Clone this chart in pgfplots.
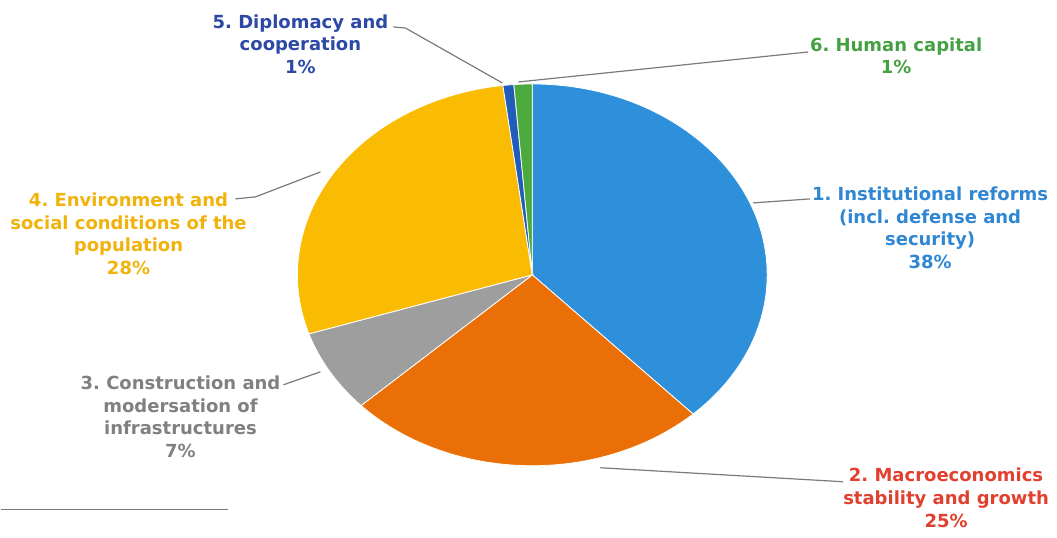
\documentclass[border=0pt]{standalone}
\usepackage{pgfplots}
\pgfplotsset{compat=1.18}
\usepackage{fontspec}
\setmainfont{DejaVu Sans}
\frenchspacing
\definecolor{cBlue}{HTML}{2E90DA}
\definecolor{cOrange}{HTML}{EA6F07}
\definecolor{cGray}{HTML}{9E9E9E}
\definecolor{cYellow}{HTML}{F9BC02}
\definecolor{cNavy}{HTML}{1F5DB8}
\definecolor{cGreen}{HTML}{4BAA3C}
\definecolor{tBlue}{HTML}{2F86D2}
\definecolor{tRed}{HTML}{E2402E}
\definecolor{tGray}{HTML}{808080}
\definecolor{tYellow}{HTML}{F2B20C}
\definecolor{tNavy}{HTML}{2D49A6}
\definecolor{tGreen}{HTML}{45A043}
\definecolor{lead}{HTML}{7A7A7A}
\tikzset{lbl/.style={align=center, inner sep=0pt, font=\bfseries\fontsize{9}{11.3}\selectfont}}
% shares (percent), clockwise from 12 o'clock
\def\vA{38}\def\vB{25}\def\vC{7}\def\vD{28}\def\vE{0.75}\def\vF{1.25}
\pgfmathsetmacro\aA{90}
\pgfmathsetmacro\aB{\aA-3.6*\vA}
\pgfmathsetmacro\aC{\aB-3.6*\vB}
\pgfmathsetmacro\aD{\aC-3.6*\vC}
\pgfmathsetmacro\aE{\aD-3.6*\vD}
\pgfmathsetmacro\aF{\aE-3.6*\vE}
\pgfmathsetmacro\aG{\aF-3.6*\vF}
\def\cx{532}\def\cy{263}\def\rx{235}\def\ry{191}
\newcommand\slice[3]{%
  \fill[#3, draw=white, line width=0.4pt] (axis cs:\cx,\cy) -- (axis cs:{\cx+\rx*cos(#1)},{\cy+\ry*sin(#1)})
    arc[start angle=#1, end angle=#2, x radius=117.5pt, y radius=95.5pt] -- cycle;}
\begin{document}
\begin{tikzpicture}
\begin{axis}[width=528.5pt, height=269pt, scale only axis, xmin=0, xmax=1057, ymin=0, ymax=538, hide axis, clip=false]
\path (axis cs:0,0) rectangle (axis cs:1057,538);
\slice{\aA}{\aB}{cBlue}
\slice{\aB}{\aC}{cOrange}
\slice{\aC}{\aD}{cGray}
\slice{\aD}{\aE}{cYellow}
\slice{\aE}{\aF}{cNavy}
\slice{\aF}{\aG}{cGreen}
% leader lines
\draw[lead, line width=0.6pt] (axis cs:393,511) -- (axis cs:405,510) -- (axis cs:502,455);
\draw[lead, line width=0.6pt] (axis cs:518,456) -- (axis cs:808,486);
\draw[lead, line width=0.6pt] (axis cs:235,339) -- (axis cs:255,341) -- (axis cs:320,366);
\draw[lead, line width=0.6pt] (axis cs:753,335) -- (axis cs:810,339);
\draw[lead, line width=0.6pt] (axis cs:283,153) -- (axis cs:320,166);
\draw[lead, line width=0.6pt] (axis cs:600,70) -- (axis cs:843,56);
\draw[lead, line width=0.6pt] (axis cs:0,28) -- (axis cs:228,28);
% labels
\node[lbl, text=tNavy] at (axis cs:300,494) {5. Diplomacy and\\cooperation\\1\%};
\node[lbl, text=tGreen] at (axis cs:896,482) {6. Human capital\\1\%};
\node[lbl, text=tYellow] at (axis cs:128,304) {4. Environment and\\social conditions of the\\population\\28\%};
\node[lbl, text=tBlue] at (axis cs:930,310) {1. Institutional reforms\\(incl. defense and\\security)\\38\%};
\node[lbl, text=tGray] at (axis cs:180,121) {3. Construction and\\modersation of\\infrastructures\\7\%};
\node[lbl, text=tRed] at (axis cs:946,40) {2. Macroeconomics\\stability and growth\\25\%};
\end{axis}
\end{tikzpicture}
\end{document}
